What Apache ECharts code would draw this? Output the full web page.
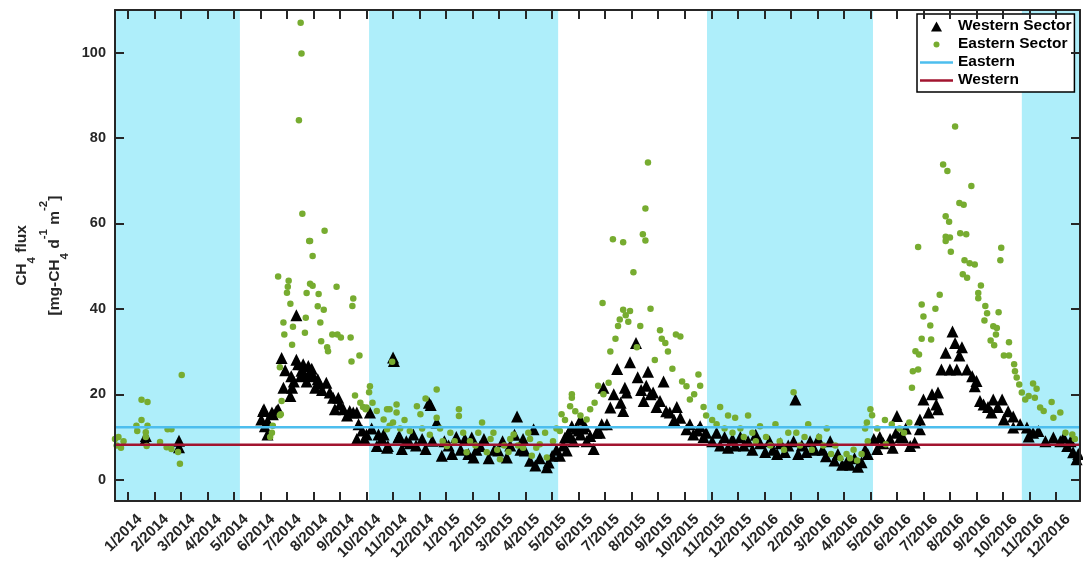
<!DOCTYPE html>
<html>
<head>
<meta charset="utf-8">
<script src="https://cdn.jsdelivr.net/npm/echarts@6/dist/echarts.min.js"></script>
<style>
  html, body { margin: 0; padding: 0; background: #fff; }
  #chart { width: 1083px; height: 567px; }
</style>
</head>
<body>
<div id="chart"></div>
<script>
// month tick labels (one per month)
const tickMonths = [
  '1/2014', '2/2014', '3/2014', '4/2014', '5/2014', '6/2014', '7/2014', '8/2014', '9/2014', '10/2014', '11/2014', '12/2014',
  '1/2015', '2/2015', '3/2015', '4/2015', '5/2015', '6/2015', '7/2015', '8/2015', '9/2015', '10/2015', '11/2015', '12/2015',
  '1/2016', '2/2016', '3/2016', '4/2016', '5/2016', '6/2016', '7/2016', '8/2016', '9/2016', '10/2016', '11/2016', '12/2016'
]
const yTicks = [0, 20, 40, 60, 80, 100]
const xRange = ['2013-12-17', '2016-12-29']

// shaded (ice cover) periods
const shadedPeriods = [
  ['2013-12-17', '2014-05-08'],
  ['2014-10-04', '2015-05-08'],
  ['2015-10-27', '2016-05-04'],
  ['2016-10-23', '2016-12-29']
]

// mean lines
const easternMean = 12.3
const westernMean = 8.2

const westernSector = [
  ['2014-01-21', 9.3], ['2014-01-22', 10.2], ['2014-02-27', 9.1], ['2014-02-27', 7.6],
  ['2014-06-02', 14.1], ['2014-06-04', 16.1], ['2014-06-05', 16.5], ['2014-06-06', 12.5], ['2014-06-09', 13.7], ['2014-06-09', 10.6],
  ['2014-06-14', 15.7], ['2014-06-15', 15.3], ['2014-06-19', 16.1], ['2014-06-21', 16.5], ['2014-06-25', 28.5], ['2014-06-27', 21.5], ['2014-06-29', 25.6],
  ['2014-07-05', 19.6], ['2014-07-06', 24.2], ['2014-07-07', 21.5], ['2014-07-09', 23], ['2014-07-12', 28.1], ['2014-07-12', 38.5],
  ['2014-07-14', 27], ['2014-07-17', 24.2], ['2014-07-18', 25.5], ['2014-07-20', 27], ['2014-07-22', 24.5], ['2014-07-24', 23],
  ['2014-07-26', 26.6], ['2014-07-28', 25], ['2014-07-30', 26],
  ['2014-08-01', 24.2], ['2014-08-03', 21.5], ['2014-08-06', 23.5], ['2014-08-08', 22.5], ['2014-08-11', 21], ['2014-08-16', 22.7],
  ['2014-08-20', 20.4], ['2014-08-24', 19.2], ['2014-08-26', 16.5], ['2014-08-30', 19.2],
  ['2014-09-01', 17.6], ['2014-09-05', 16.5], ['2014-09-09', 15], ['2014-09-12', 16.1], ['2014-09-16', 15.7], ['2014-09-20', 15.7],
  ['2014-09-20', 9.5], ['2014-09-22', 13], ['2014-09-26', 11.5], ['2014-09-29', 9.5],
  ['2014-10-01', 10.6], ['2014-10-05', 15.7], ['2014-10-07', 12], ['2014-10-13', 7.9], ['2014-10-15', 10.6], ['2014-10-19', 9.5],
  ['2014-10-21', 10.6], ['2014-10-25', 7.5], ['2014-10-26', 7.9],
  ['2014-11-01', 28.6], ['2014-11-02', 27.8], ['2014-11-07', 9.9], ['2014-11-08', 10.2], ['2014-11-11', 7.2], ['2014-11-16', 9],
  ['2014-11-20', 8.5], ['2014-11-24', 10.6], ['2014-11-27', 8],
  ['2014-12-04', 9.5], ['2014-12-08', 7.2], ['2014-12-12', 18], ['2014-12-14', 17.5], ['2014-12-16', 9.1], ['2014-12-21', 13.4],
  ['2014-12-27', 5.6], ['2014-12-30', 9],
  ['2015-01-04', 8], ['2015-01-08', 6], ['2015-01-13', 10], ['2015-01-18', 7], ['2015-01-23', 9.5], ['2015-01-27', 6], ['2015-01-31', 9.9],
  ['2015-02-02', 5.2], ['2015-02-05', 7], ['2015-02-09', 7.9], ['2015-02-13', 9.5], ['2015-02-18', 5], ['2015-02-24', 7], ['2015-02-28', 6.8],
  ['2015-03-05', 9], ['2015-03-10', 5.2], ['2015-03-14', 8], ['2015-03-19', 10.5], ['2015-03-22', 14.8], ['2015-03-26', 7],
  ['2015-03-29', 9.5], ['2015-03-31', 6.8],
  ['2015-04-06', 4.4], ['2015-04-10', 11.8], ['2015-04-12', 3.3], ['2015-04-17', 5], ['2015-04-25', 2.9], ['2015-04-27', 4],
  ['2015-05-01', 5.6], ['2015-05-06', 7], ['2015-05-10', 5.6], ['2015-05-14', 8], ['2015-05-16', 9.9], ['2015-05-18', 6.8],
  ['2015-05-20', 11], ['2015-05-22', 10], ['2015-05-24', 12.5], ['2015-05-26', 9], ['2015-05-29', 12],
  ['2015-06-01', 11.5], ['2015-06-03', 14.1], ['2015-06-03', 10.6], ['2015-06-06', 12], ['2015-06-08', 12.5], ['2015-06-10', 9],
  ['2015-06-14', 10.2], ['2015-06-18', 7.2], ['2015-06-21', 11], ['2015-06-25', 11], ['2015-06-27', 13], ['2015-06-29', 21.5],
  ['2015-07-03', 13], ['2015-07-07', 16.9], ['2015-07-11', 20], ['2015-07-15', 25.9], ['2015-07-19', 18], ['2015-07-22', 16.1],
  ['2015-07-24', 21.5], ['2015-07-26', 20.4], ['2015-07-30', 27.5],
  ['2015-08-06', 32], ['2015-08-08', 24], ['2015-08-12', 21], ['2015-08-15', 18.4], ['2015-08-18', 22], ['2015-08-20', 25.3],
  ['2015-08-23', 20], ['2015-08-26', 20.4], ['2015-08-30', 17],
  ['2015-09-03', 18.4], ['2015-09-07', 23], ['2015-09-10', 16], ['2015-09-14', 15.7], ['2015-09-19', 14], ['2015-09-22', 17], ['2015-09-26', 14.5],
  ['2015-10-03', 11.8], ['2015-10-07', 13], ['2015-10-11', 10.6], ['2015-10-16', 11.5], ['2015-10-19', 12.5], ['2015-10-23', 10], ['2015-10-26', 11],
  ['2015-11-02', 9], ['2015-11-07', 11], ['2015-11-11', 8], ['2015-11-16', 10], ['2015-11-20', 7.5], ['2015-11-25', 9.5], ['2015-11-28', 8],
  ['2015-12-04', 10], ['2015-12-08', 8], ['2015-12-13', 9], ['2015-12-18', 7], ['2015-12-22', 10.5], ['2015-12-27', 8.5],
  ['2016-01-02', 6.5], ['2016-01-07', 9], ['2016-01-11', 7], ['2016-01-16', 6], ['2016-01-20', 8.5], ['2016-01-25', 6.5], ['2016-01-29', 8],
  ['2016-02-04', 9], ['2016-02-06', 18.8], ['2016-02-09', 6], ['2016-02-13', 8], ['2016-02-18', 6.5], ['2016-02-22', 9], ['2016-02-27', 7],
  ['2016-03-02', 9.5], ['2016-03-07', 7], ['2016-03-11', 5.5], ['2016-03-16', 9], ['2016-03-21', 4.5], ['2016-03-25', 6], ['2016-03-30', 3.5],
  ['2016-04-04', 4], ['2016-04-08', 3.5], ['2016-04-13', 5], ['2016-04-17', 3], ['2016-04-21', 4.1], ['2016-04-25', 7], ['2016-04-28', 6],
  ['2016-05-05', 9.5], ['2016-05-09', 7.2], ['2016-05-12', 10], ['2016-05-16', 8.5], ['2016-05-24', 9.5], ['2016-05-27', 7.5], ['2016-05-31', 11],
  ['2016-06-01', 14.9], ['2016-06-05', 10], ['2016-06-08', 9.9], ['2016-06-11', 12], ['2016-06-16', 7.9], ['2016-06-21', 8.7],
  ['2016-06-27', 11.8], ['2016-06-27', 14.1],
  ['2016-07-01', 18.8], ['2016-07-07', 15.7], ['2016-07-11', 20], ['2016-07-16', 17.6], ['2016-07-18', 20.4], ['2016-07-18', 16.5],
  ['2016-07-22', 25.8], ['2016-07-27', 29.7],
  ['2016-08-01', 25.8], ['2016-08-04', 34.7], ['2016-08-07', 32], ['2016-08-09', 25.8], ['2016-08-12', 29.1], ['2016-08-15', 31],
  ['2016-08-21', 25.8], ['2016-08-27', 24.2], ['2016-08-30', 21.9],
  ['2016-09-01', 23.1], ['2016-09-05', 18.4], ['2016-09-09', 17.6], ['2016-09-14', 17], ['2016-09-18', 15.7], ['2016-09-20', 18.8], ['2016-09-25', 17],
  ['2016-09-30', 18.8], ['2016-10-02', 14.1], ['2016-10-07', 16], ['2016-10-13', 14.8], ['2016-10-13', 12.2], ['2016-10-21', 13],
  ['2016-10-29', 12.2], ['2016-10-31', 10.1],
  ['2016-11-05', 11], ['2016-11-11', 11.4], ['2016-11-19', 9], ['2016-11-28', 9.9],
  ['2016-12-06', 9], ['2016-12-10', 9.9], ['2016-12-14', 7.9], ['2016-12-18', 9], ['2016-12-21', 6.4], ['2016-12-25', 4.8], ['2016-12-27', 6]
]

const easternSector = [
  ['2013-12-17', 9.5], ['2013-12-19', 8], ['2013-12-21', 10], ['2013-12-24', 7.5], ['2013-12-27', 9],
  ['2014-01-11', 12.6], ['2014-01-12', 11.4], ['2014-01-17', 18.7], ['2014-01-17', 14], ['2014-01-22', 11.1], ['2014-01-22', 10],
  ['2014-01-23', 7.9], ['2014-01-24', 18.2], ['2014-01-24', 12.6],
  ['2014-02-07', 8.8], ['2014-02-14', 7.6], ['2014-02-15', 11.8], ['2014-02-19', 11.8], ['2014-02-19', 7.2], ['2014-02-26', 6.5],
  ['2014-02-28', 3.7], ['2014-03-02', 24.5],
  ['2014-06-12', 10], ['2014-06-14', 11], ['2014-06-15', 12.6], ['2014-06-21', 47.6], ['2014-06-23', 26.3], ['2014-06-23', 15.1],
  ['2014-06-24', 15.3], ['2014-06-25', 18.4], ['2014-06-27', 36.8], ['2014-06-28', 34],
  ['2014-07-01', 43.8], ['2014-07-02', 45.2], ['2014-07-03', 46.6], ['2014-07-05', 41.2], ['2014-07-07', 31.6], ['2014-07-08', 35.8],
  ['2014-07-15', 84.2], ['2014-07-17', 107], ['2014-07-18', 99.8], ['2014-07-19', 62.3], ['2014-07-22', 34.4], ['2014-07-23', 37.9],
  ['2014-07-24', 43.7], ['2014-07-27', 55.9], ['2014-07-28', 45.9], ['2014-07-28', 55.9], ['2014-07-31', 52.4], ['2014-07-31', 45.4],
  ['2014-08-06', 40.6], ['2014-08-07', 43.5], ['2014-08-09', 36.8], ['2014-08-10', 32.4], ['2014-08-13', 39.8], ['2014-08-14', 58.3],
  ['2014-08-17', 31], ['2014-08-18', 30.1], ['2014-08-23', 34], ['2014-08-28', 45.2], ['2014-08-29', 34],
  ['2014-09-02', 33.3], ['2014-09-13', 33.3], ['2014-09-14', 27.7], ['2014-09-15', 40.7], ['2014-09-16', 42.4], ['2014-09-18', 19.7],
  ['2014-09-23', 29.1], ['2014-09-24', 18], ['2014-09-27', 17], ['2014-09-30', 16.5],
  ['2014-10-01', 16.9], ['2014-10-04', 20.5], ['2014-10-05', 21.9], ['2014-10-08', 18], ['2014-10-13', 16.1], ['2014-10-21', 14.1],
  ['2014-10-25', 11.8], ['2014-10-25', 16.5], ['2014-10-28', 16.5], ['2014-10-28', 12.6], ['2014-10-31', 27.6],
  ['2014-11-01', 13.4], ['2014-11-05', 15.7], ['2014-11-05', 17.6], ['2014-11-09', 12], ['2014-11-14', 14], ['2014-11-20', 11.4], ['2014-11-28', 17.2],
  ['2014-12-02', 15.3], ['2014-12-04', 12], ['2014-12-08', 19], ['2014-12-13', 10.5], ['2014-12-21', 21.1], ['2014-12-21', 14.5],
  ['2014-12-25', 12], ['2014-12-28', 9],
  ['2015-01-02', 7.9], ['2015-01-06', 11], ['2015-01-11', 9], ['2015-01-16', 16.5], ['2015-01-16', 14.9], ['2015-01-21', 11],
  ['2015-01-25', 6.4], ['2015-01-29', 9],
  ['2015-02-04', 8], ['2015-02-07', 11], ['2015-02-11', 13.4], ['2015-02-16', 6.4], ['2015-02-20', 9.5], ['2015-02-23', 11], ['2015-02-27', 7],
  ['2015-03-02', 4.8], ['2015-03-07', 8], ['2015-03-12', 6.5], ['2015-03-14', 9.5], ['2015-03-18', 10.6], ['2015-03-23', 8], ['2015-03-29', 7.5],
  ['2015-04-04', 11], ['2015-04-06', 9.5], ['2015-04-08', 5.6], ['2015-04-13', 7.5], ['2015-04-17', 8.3], ['2015-04-23', 11], ['2015-04-25', 5.2],
  ['2015-05-02', 9], ['2015-05-06', 12], ['2015-05-10', 11.4], ['2015-05-12', 15.3], ['2015-05-16', 14], ['2015-05-22', 17.2],
  ['2015-05-24', 19.2], ['2015-05-24', 20], ['2015-05-28', 16],
  ['2015-06-03', 15], ['2015-06-10', 14.1], ['2015-06-14', 16.5], ['2015-06-19', 18], ['2015-06-23', 22], ['2015-06-28', 41.4], ['2015-06-29', 20],
  ['2015-07-05', 22.7], ['2015-07-07', 30], ['2015-07-10', 56.3], ['2015-07-13', 33], ['2015-07-16', 36], ['2015-07-18', 37.5],
  ['2015-07-22', 55.6], ['2015-07-22', 39.8], ['2015-07-25', 38.5], ['2015-07-28', 37], ['2015-07-30', 39.5],
  ['2015-08-03', 48.6], ['2015-08-07', 31], ['2015-08-11', 36], ['2015-08-14', 57.5], ['2015-08-17', 63.5], ['2015-08-17', 56],
  ['2015-08-20', 74.3], ['2015-08-23', 40], ['2015-08-28', 28],
  ['2015-09-03', 35], ['2015-09-05', 33], ['2015-09-09', 32], ['2015-09-12', 30], ['2015-09-17', 26], ['2015-09-21', 34],
  ['2015-09-26', 33.5], ['2015-09-28', 23],
  ['2015-10-03', 21.9], ['2015-10-07', 18.8], ['2015-10-12', 20], ['2015-10-17', 24.6], ['2015-10-19', 22], ['2015-10-23', 17], ['2015-10-26', 15],
  ['2015-11-02', 14], ['2015-11-07', 13], ['2015-11-11', 17], ['2015-11-16', 12], ['2015-11-20', 15], ['2015-11-25', 11], ['2015-11-28', 14.5],
  ['2015-12-04', 12], ['2015-12-08', 10], ['2015-12-13', 15], ['2015-12-18', 11], ['2015-12-22', 9], ['2015-12-27', 12.5],
  ['2016-01-03', 10], ['2016-01-08', 8], ['2016-01-14', 13], ['2016-01-19', 9], ['2016-01-24', 7], ['2016-01-29', 11],
  ['2016-02-04', 20.5], ['2016-02-07', 11], ['2016-02-11', 8], ['2016-02-16', 10], ['2016-02-20', 13], ['2016-02-24', 7],
  ['2016-03-03', 10], ['2016-03-08', 8], ['2016-03-12', 12], ['2016-03-17', 6], ['2016-03-22', 8], ['2016-03-28', 5],
  ['2016-04-04', 6], ['2016-04-08', 5], ['2016-04-12', 7], ['2016-04-16', 4.5], ['2016-04-21', 6], ['2016-04-25', 12],
  ['2016-04-27', 13.4], ['2016-04-28', 9],
  ['2016-05-01', 16.5], ['2016-05-03', 15.1], ['2016-05-09', 12], ['2016-05-18', 14], ['2016-05-19', 8.3], ['2016-05-26', 13],
  ['2016-06-04', 12], ['2016-06-09', 11], ['2016-06-15', 13.4], ['2016-06-18', 21.5], ['2016-06-19', 25.4], ['2016-06-22', 30.1],
  ['2016-06-25', 54.5], ['2016-06-25', 25.8], ['2016-06-26', 29.3], ['2016-06-29', 33], ['2016-06-29', 41],
  ['2016-07-01', 38.2], ['2016-07-09', 36.1], ['2016-07-10', 32.8], ['2016-07-15', 40], ['2016-07-20', 43.3], ['2016-07-24', 73.8],
  ['2016-07-27', 61.7], ['2016-07-27', 56.9], ['2016-07-27', 55.9], ['2016-07-29', 72.3], ['2016-07-31', 60.4],
  ['2016-08-01', 56.7], ['2016-08-02', 53.4], ['2016-08-07', 82.7], ['2016-08-12', 64.8], ['2016-08-13', 57.7], ['2016-08-16', 48.1],
  ['2016-08-17', 64.4], ['2016-08-18', 51.4], ['2016-08-20', 57.5], ['2016-08-21', 47.3], ['2016-08-24', 50.7], ['2016-08-26', 68.8],
  ['2016-08-30', 50.4],
  ['2016-09-03', 43.7], ['2016-09-03', 42.5], ['2016-09-06', 45.5], ['2016-09-10', 37.3], ['2016-09-11', 40.7], ['2016-09-13', 39],
  ['2016-09-17', 32.6], ['2016-09-20', 35.9], ['2016-09-21', 31.5], ['2016-09-23', 34], ['2016-09-24', 35.5], ['2016-09-26', 39.2],
  ['2016-09-28', 51.4], ['2016-09-29', 54.3],
  ['2016-10-02', 29.1], ['2016-10-08', 32.2], ['2016-10-08', 29.1], ['2016-10-14', 27], ['2016-10-15', 25.4], ['2016-10-17', 23.9],
  ['2016-10-20', 22.3], ['2016-10-23', 20.4], ['2016-10-27', 18.8], ['2016-10-31', 19.6],
  ['2016-11-05', 22.5], ['2016-11-07', 19.2], ['2016-11-09', 21.3], ['2016-11-13', 16.9], ['2016-11-17', 16.1], ['2016-11-26', 18.2], ['2016-11-28', 14.5],
  ['2016-12-06', 15.7], ['2016-12-12', 11], ['2016-12-20', 10.6], ['2016-12-23', 9.5]
]

// date -> position in months since 1/2014 (ticks are evenly spaced per month)
function monthPos (s) {
  const [y, m, d] = s.split('-').map(Number)
  const days = new Date(y, m, 0).getDate()
  return (y - 2014) * 12 + (m - 1) + (d - 1) / days
}

const labelShift = 0.45 // rotated labels sit a little right of their tick
const font = '"Liberation Sans", Arial, Helvetica, sans-serif'
const axisColor = '#262626'
const xMin = monthPos(xRange[0])
const xMax = monthPos(xRange[1])
const monthIdx = tickMonths.map((_, i) => i)

// legend icons (the leading moves fix the icon box to 33x12)
const iconBox = 'path://M0,0M33,12'
const triangleIcon = iconBox + 'M11,11.5L16.5,1.5L22,11.5Z'
const dotIcon = iconBox + 'M13.5,6.5a3,3 0 1,0 6,0a3,3 0 1,0 -6,0Z'
const lineIcon = iconBox + 'M0,5.3L33,5.3L33,7.7L0,7.7Z'

const chart = echarts.init(document.getElementById('chart'), null, { renderer: 'canvas' })

const xBase = {
  type: 'value',
  min: xMin,
  max: xMax,
  z: 10,
  axisLine: { show: true, onZero: false, lineStyle: { color: axisColor, width: 2 } },
  axisTick: { show: true, inside: true, length: 9, customValues: monthIdx, lineStyle: { color: axisColor, width: 2 } },
  splitLine: { show: false }
}
const yBase = {
  type: 'value',
  min: -5,
  max: 110,
  z: 10,
  axisLine: { show: true, onZero: false, lineStyle: { color: axisColor, width: 2 } },
  axisTick: { show: true, inside: true, length: 9, customValues: yTicks, lineStyle: { color: axisColor, width: 2 } },
  splitLine: { show: false }
}

chart.setOption({
  animation: false,
  textStyle: { fontFamily: font },
  grid: { left: 115, right: 3, top: 10, bottom: 66, containLabel: false },
  legend: {
    orient: 'vertical',
    left: 917,
    top: 14,
    itemWidth: 33,
    itemHeight: 12,
    itemGap: 2,
    padding: [4, 3, 4, 3],
    borderColor: '#000',
    borderWidth: 1.5,
    backgroundColor: '#fff',
    textStyle: { fontSize: 15.5, fontWeight: 'bold', color: '#000', fontFamily: font },
    data: [
      { name: 'Western Sector', icon: triangleIcon },
      { name: 'Eastern Sector', icon: dotIcon },
      { name: 'Eastern', icon: lineIcon },
      { name: 'Western', icon: lineIcon }
    ]
  },
  xAxis: [
    Object.assign({}, xBase, {
      position: 'bottom',
      axisLabel: {
        show: true,
        rotate: 45,
        margin: 16,
        fontSize: 15,
        fontWeight: 'bold',
        color: axisColor,
        customValues: monthIdx.map(i => i + labelShift),
        formatter: v => tickMonths[Math.round(v - labelShift)] || ''
      }
    }),
    Object.assign({}, xBase, { position: 'top', axisLabel: { show: false } })
  ],
  yAxis: [
    Object.assign({}, yBase, {
      position: 'left',
      axisLabel: { show: true, margin: 9, fontSize: 14.5, fontWeight: 'bold', color: axisColor, customValues: yTicks },
      name: '{n|CH}{b|4}{n| flux}\n{n|[mg-CH}{b|4}{n| d}{p|-1}{n| m}{p|-2}{n|]}',
      nameLocation: 'middle',
      nameRotate: 90,
      nameGap: 32,
      nameTextStyle: {
        color: axisColor,
        fontSize: 15,
        fontWeight: 'bold',
        rich: {
          n: { fontSize: 15.5, fontWeight: 'bold', color: axisColor, lineHeight: 33, fontFamily: font },
          b: { fontSize: 11.5, fontWeight: 'bold', color: axisColor, lineHeight: 23, verticalAlign: 'bottom', fontFamily: font },
          p: { fontSize: 11.5, fontWeight: 'bold', color: axisColor, lineHeight: 23, verticalAlign: 'top', fontFamily: font }
        }
      }
    }),
    Object.assign({}, yBase, { position: 'right', axisLabel: { show: false } })
  ],
  series: [
    {
      name: 'bands',
      type: 'line',
      data: [],
      z: 1,
      silent: true,
      markArea: {
        silent: true,
        itemStyle: { color: '#aeeefa', opacity: 1 },
        data: shadedPeriods.map(p => [{ xAxis: monthPos(p[0]) }, { xAxis: monthPos(p[1]) }])
      }
    },
    {
      name: 'Western Sector',
      type: 'scatter',
      symbol: 'triangle',
      symbolSize: 12,
      z: 3,
      itemStyle: { color: '#000', opacity: 1 },
      data: westernSector.map(d => [monthPos(d[0]), d[1]])
    },
    {
      name: 'Eastern Sector',
      type: 'scatter',
      symbol: 'circle',
      symbolSize: 6.5,
      z: 4,
      itemStyle: { color: '#77ac30', opacity: 1 },
      data: easternSector.map(d => [monthPos(d[0]), d[1]])
    },
    {
      name: 'Eastern',
      type: 'line',
      z: 5,
      symbol: 'none',
      lineStyle: { color: '#4dbeee', width: 2.5 },
      itemStyle: { color: '#4dbeee' },
      data: [[xMin, easternMean], [xMax, easternMean]]
    },
    {
      name: 'Western',
      type: 'line',
      z: 5,
      symbol: 'none',
      lineStyle: { color: '#a2142f', width: 2.5 },
      itemStyle: { color: '#a2142f' },
      data: [[xMin, westernMean], [xMax, westernMean]]
    }
  ]
})
</script>
</body>
</html>
